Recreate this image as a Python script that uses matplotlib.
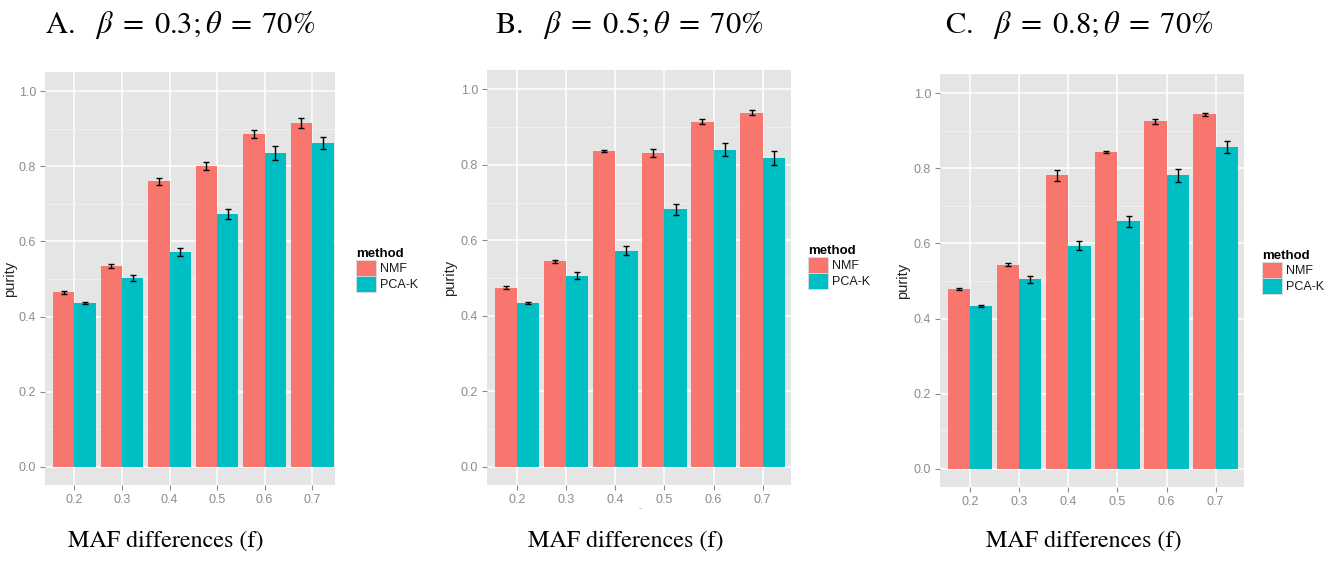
import matplotlib
matplotlib.use('Agg')
import matplotlib.pyplot as plt
from matplotlib.patches import Patch
import numpy as np

plt.rcParams['mathtext.fontset'] = 'stix'
plt.rcParams['font.family'] = ['Liberation Sans', 'DejaVu Sans']

categories = ['0.2', '0.3', '0.4', '0.5', '0.6', '0.7']
methods = ['NMF', 'PCA-K']
colors = ['#F8766D', '#00BFC4']

# panel A: beta = 0.3
nmf_a = [0.465, 0.534, 0.760, 0.800, 0.886, 0.915]
nmf_a_err = [0.004, 0.005, 0.010, 0.011, 0.010, 0.013]
pca_a = [0.437, 0.502, 0.572, 0.674, 0.835, 0.862]
pca_a_err = [0.003, 0.008, 0.011, 0.013, 0.018, 0.016]

# panel B: beta = 0.5
nmf_b = [0.475, 0.544, 0.837, 0.831, 0.914, 0.938]
nmf_b_err = [0.003, 0.003, 0.003, 0.010, 0.006, 0.006]
pca_b = [0.434, 0.506, 0.573, 0.682, 0.840, 0.818]
pca_b_err = [0.003, 0.009, 0.011, 0.014, 0.018, 0.018]

# panel C: beta = 0.8
nmf_c = [0.478, 0.543, 0.781, 0.844, 0.925, 0.944]
nmf_c_err = [0.003, 0.004, 0.014, 0.002, 0.007, 0.004]
pca_c = [0.433, 0.505, 0.594, 0.659, 0.781, 0.857]
pca_c_err = [0.002, 0.009, 0.012, 0.014, 0.017, 0.017]

titles = [r'A.$\quad\beta\;=\;0.3;\theta\;=\;70\%$',
          r'B.$\quad\beta\;=\;0.5;\theta\;=\;70\%$',
          r'C.$\quad\beta\;=\;0.8;\theta\;=\;70\%$']
xlabel = 'MAF differences (f)'

W, H = 1329, 563
fig = plt.figure(figsize=(W / 100, H / 100), dpi=100)

# pixel boxes: left, right, top, bottom, legend x, legend top, title x, xlabel center
panels = [
    dict(nmf=nmf_a, nmf_err=nmf_a_err, pca=pca_a, pca_err=pca_a_err,
         box=(45, 335, 72, 485), xright=0.48, leg=(356, 248), tx=45, lx=166),
    dict(nmf=nmf_b, nmf_err=nmf_b_err, pca=pca_b, pca_err=pca_b_err,
         box=(487, 791, 70, 485), xright=0.58, leg=(808, 245), tx=495, lx=626),
    dict(nmf=nmf_c, nmf_err=nmf_c_err, pca=pca_c, pca_err=pca_c_err,
         box=(940, 1244, 74, 487), xright=0.58, leg=(1262, 250), tx=945, lx=1084),
]

grey_txt = '#8c8c8c'
x = np.arange(len(categories))
bw = 0.45

for i, p in enumerate(panels):
    l, r, t, b = p['box']
    ax = fig.add_axes([l / W, 1 - b / H, (r - l) / W, (b - t) / H])
    ax.set_facecolor('#E5E5E5')
    for s in ax.spines.values():
        s.set_visible(False)

    ax.bar(x - bw / 2, p['nmf'], bw, color=colors[0], zorder=3)
    ax.bar(x + bw / 2, p['pca'], bw, color=colors[1], zorder=3)
    ax.errorbar(x - bw / 2, p['nmf'], yerr=p['nmf_err'], fmt='none', ecolor='black',
                elinewidth=1.0, capsize=2.5, capthick=1.0, zorder=4)
    ax.errorbar(x + bw / 2, p['pca'], yerr=p['pca_err'], fmt='none', ecolor='black',
                elinewidth=1.0, capsize=2.5, capthick=1.0, zorder=4)

    ax.set_xlim(-0.62, len(categories) - 1 + p['xright'])
    ax.set_ylim(-0.048, 1.051)
    ax.set_xticks(x)
    ax.set_xticklabels(categories)
    ax.set_yticks([0.0, 0.2, 0.4, 0.6, 0.8, 1.0])
    ax.set_yticks([0.1, 0.3, 0.5, 0.7, 0.9], minor=True)
    ax.grid(which='major', color='white', linewidth=1.1, zorder=0)
    ax.grid(which='minor', axis='y', color='#F2F2F2', linewidth=0.6, zorder=0)
    ax.set_axisbelow(True)
    ax.tick_params(which='major', length=3.5, width=0.8, color='#8c8c8c',
                   labelsize=9, labelcolor=grey_txt, pad=3)
    ax.tick_params(which='minor', length=0)

    ax.set_ylabel('purity', fontsize=10.5, color='#222222')
    ax.yaxis.set_label_coords(-0.097, 0.5)

    handles = [Patch(facecolor=colors[k], edgecolor='#dddddd', linewidth=0.6, label=methods[k])
               for k in range(2)]
    lx, ly = p['leg']
    leg = ax.legend(handles=handles, title='method', loc='upper left',
                    bbox_to_anchor=(lx / W, 1 - ly / H), bbox_transform=fig.transFigure,
                    frameon=False, fontsize=9, handlelength=1.6, handleheight=1.6,
                    handletextpad=0.3, labelspacing=0.0, borderpad=0, borderaxespad=0,
                    alignment='left')
    leg.get_title().set_fontweight('bold')
    leg.get_title().set_fontsize(9.5)
    for txt in leg.get_texts():
        txt.set_color('#1a1a1a')

    fig.text(p['tx'] / W, 1 - 33 / H, titles[i], fontsize=22,
             family='STIXGeneral', va='baseline', ha='left')
    fig.text(p['lx'] / W, 1 - 541 / H, xlabel, fontsize=17.3,
             family='STIXGeneral', va='center', ha='center')

# stray mark under the x axis of panel B
fig.text(640 / W, 1 - 509 / H, '-', fontsize=6, color=grey_txt, ha='center', va='center')

fig.savefig('out.png', dpi=100)
